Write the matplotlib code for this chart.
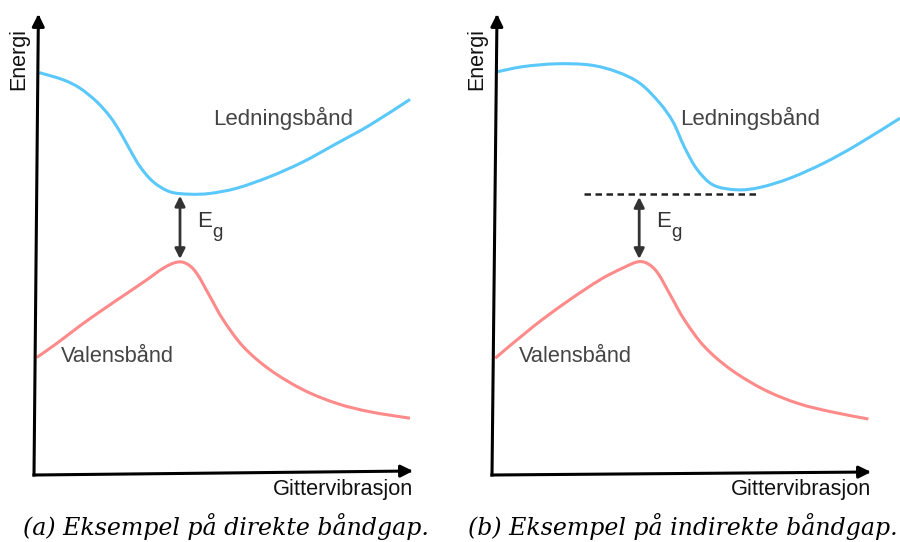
import matplotlib
matplotlib.use("Agg")
import matplotlib.pyplot as plt
import numpy as np
from matplotlib.path import Path
from matplotlib.patches import PathPatch

# Band curves, k = lattice vibration (arb. units), E = energy (arb. units)
direct_cb_k = [0.13, 0.73, 1.15, 1.57, 1.90, 2.15, 2.40, 2.65, 2.98, 3.40,
               3.90, 4.40, 5.07, 5.90, 6.73, 7.57, 8.40, 9.40]
direct_cb_e = [10.06, 9.88, 9.67, 9.33, 8.96, 8.58, 8.13, 7.71, 7.33, 7.08,
               7.02, 7.04, 7.17, 7.46, 7.83, 8.29, 8.75, 9.39]
direct_vb_k = [0.07, 0.57, 1.15, 1.73, 2.32, 2.82, 3.23, 3.57, 3.82, 4.07,
               4.40, 4.73, 5.23, 5.90, 6.73, 7.57, 8.40, 9.40]
direct_vb_e = [2.94, 3.29, 3.73, 4.14, 4.54, 4.88, 5.17, 5.32, 5.28, 5.04,
               4.46, 3.88, 3.21, 2.63, 2.13, 1.79, 1.58, 1.42]

indirect_cb_k = [0.13, 0.78, 1.62, 2.45, 3.12, 3.70, 4.20, 4.53, 4.80, 5.12,
                 5.53, 6.12, 6.70, 7.45, 8.28, 9.12, 10.20]
indirect_cb_e = [10.08, 10.21, 10.28, 10.25, 10.08, 9.79, 9.29, 8.82, 8.22, 7.65,
                 7.25, 7.13, 7.19, 7.42, 7.79, 8.25, 8.92]
indirect_vb_k = [0.08, 1.03, 1.87, 2.70, 3.28, 3.65, 3.90, 4.15, 4.48, 4.81,
                 5.31, 5.98, 6.81, 7.65, 8.48, 9.41]
indirect_vb_e = [2.92, 3.71, 4.33, 4.88, 5.18, 5.33, 5.28, 5.04, 4.46, 3.88,
                 3.21, 2.63, 2.13, 1.79, 1.58, 1.40]

# gap arrows: (k position, bottom, top)
direct_gap = (3.65, 5.40, 6.98)
indirect_gap = (3.68, 5.40, 6.95)
# dashed level marking the conduction-band minimum in the indirect case
indirect_level_e = 7.03
indirect_level_k = (2.30, 6.70)

captions = ["(a) Eksempel på direkte båndgap.",
            "(b) Eksempel på indirekte båndgap."]

BLUE = "#5AC8FA"
RED = "#FF8A8A"
SANS = ["Liberation Sans", "DejaVu Sans"]

fig = plt.figure(figsize=(9, 5.42), dpi=100)


def smooth_path(xs, ys):
    """Catmull-Rom through the points, written as cubic Bezier segments."""
    p = np.column_stack([xs, ys]).astype(float)
    ext = np.vstack([p[0], p, p[-1]])
    verts = [p[0]]
    codes = [Path.MOVETO]
    for i in range(1, len(ext) - 2):
        c1 = ext[i] + (ext[i + 1] - ext[i - 1]) / 6
        c2 = ext[i + 1] - (ext[i + 2] - ext[i]) / 6
        verts += [c1, c2, ext[i + 1]]
        codes += [Path.CURVE4] * 3
    return Path(verts, codes)


def draw_band(ax, xs, ys, color):
    ax.add_patch(PathPatch(smooth_path(xs, ys), fill=False, edgecolor=color,
                           lw=2.2, capstyle="butt"))


def draw_panel(ax, cb_k, cb_e, vb_k, vb_e, gap, cb_label_k, axis_tops,
               level=None):
    ax.set_axis_off()

    # hand-drawn looking axes, slightly skewed
    for tip in axis_tops:
        ax.annotate("", xy=tip, xytext=(0, 0),
                    arrowprops=dict(arrowstyle="-|>", lw=2.2, color="black",
                                    mutation_scale=18, shrinkA=0, shrinkB=0,
                                    capstyle="projecting"))

    draw_band(ax, cb_k, cb_e, BLUE)
    draw_band(ax, vb_k, vb_e, RED)

    if level is not None:
        e, (k0, k1) = level
        ax.plot([k0, k1], [e, e], color="#222222", lw=1.8,
                linestyle=(0, (2.6, 1.8)))

    k, lo, hi = gap
    ax.annotate("", xy=(k, hi), xytext=(k, lo),
                arrowprops=dict(arrowstyle="<|-|>", lw=2.0, color="#333333",
                                mutation_scale=15, shrinkA=0, shrinkB=0))
    ax.text(k + 0.43, 6.2, "E", fontsize=16, color="#333333",
            ha="left", va="baseline", family=SANS)
    ax.annotate("g", xy=(k + 0.43, 6.2), xytext=(10.8, -7.2),
                textcoords="offset points", fontsize=13.5, color="#333333",
                ha="left", va="baseline", family=SANS)

    ax.text(cb_label_k, 8.92, "Ledningsbånd", fontsize=16, color="#444444",
            ha="left", va="center", family=SANS)
    ax.text(0.68, 2.95, "Valensbånd", fontsize=15.7, color="#444444",
            ha="left", va="center", family=SANS)
    ax.text(9.48, -0.35, "Gittervibrasjon", fontsize=15.7, color="#111111",
            ha="right", va="center", family=SANS)
    ax.text(-0.38, 10.4, "Energi", fontsize=15.5, color="#111111",
            ha="center", va="center", rotation=90, family=SANS)


ax_a = fig.add_axes([0, 0, 0.5, 1])
ax_a.set_xlim(-0.85, 10.4)
ax_a.set_ylim(-1.675, 11.875)
draw_panel(ax_a, direct_cb_k, direct_cb_e, direct_vb_k, direct_vb_e,
           direct_gap, 4.48, [(0.11, 11.525), (9.475, 0.10)])

ax_b = fig.add_axes([0.5, 0, 0.5, 1])
ax_b.set_xlim(-1.05, 10.2)
ax_b.set_ylim(-1.675, 11.875)
draw_panel(ax_b, indirect_cb_k, indirect_cb_e, indirect_vb_k, indirect_vb_e,
           indirect_gap, 4.70, [(0.125, 11.525), (9.475, 0.075)],
           level=(indirect_level_e, indirect_level_k))

for x, cap in zip([0.2506, 0.759], captions):
    fig.text(x, 1 - 527 / 542, cap, fontsize=17, family="DejaVu Serif",
             style="italic", ha="center", va="center")

fig.savefig("out.png", dpi=100)
